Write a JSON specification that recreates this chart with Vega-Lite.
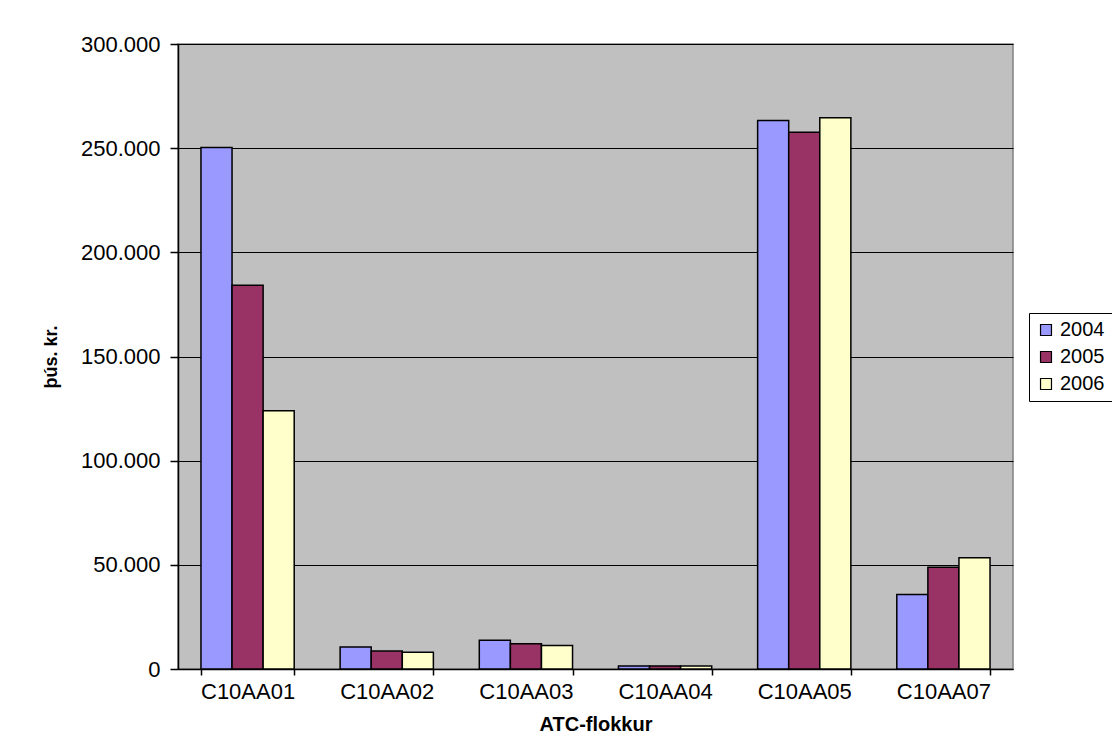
{
  "$schema": "https://vega.github.io/schema/vega-lite/v6.json",
  "width": 835,
  "height": 625,
  "autosize": {"type": "none"},
  "padding": {"left": 178, "top": 44, "right": 99, "bottom": 78},
  "background": "white",
  "config": {
    "locale": {"number": {"decimal": ",", "thousands": ".", "grouping": [3], "currency": ["", " kr."]}},
    "font": "Liberation Sans",
    "view": {"fill": "#C0C0C0", "stroke": "#808080", "strokeWidth": 1.5}
  },
  "data": {
    "values": [
      {"atc": "C10AA01", "year": "2004", "value": 250300},
      {"atc": "C10AA01", "year": "2005", "value": 184200},
      {"atc": "C10AA01", "year": "2006", "value": 124000},
      {"atc": "C10AA02", "year": "2004", "value": 10600},
      {"atc": "C10AA02", "year": "2005", "value": 8600},
      {"atc": "C10AA02", "year": "2006", "value": 8000},
      {"atc": "C10AA03", "year": "2004", "value": 13800},
      {"atc": "C10AA03", "year": "2005", "value": 12100},
      {"atc": "C10AA03", "year": "2006", "value": 11300},
      {"atc": "C10AA04", "year": "2004", "value": 1500},
      {"atc": "C10AA04", "year": "2005", "value": 1500},
      {"atc": "C10AA04", "year": "2006", "value": 1500},
      {"atc": "C10AA05", "year": "2004", "value": 263300},
      {"atc": "C10AA05", "year": "2005", "value": 257600},
      {"atc": "C10AA05", "year": "2006", "value": 264600},
      {"atc": "C10AA07", "year": "2004", "value": 35800},
      {"atc": "C10AA07", "year": "2005", "value": 48800},
      {"atc": "C10AA07", "year": "2006", "value": 53400}
    ]
  },
  "mark": {"type": "bar", "stroke": "black", "strokeWidth": 1.5},
  "encoding": {
    "x": {
      "field": "atc", "type": "nominal",
      "scale": {"paddingInner": 0.33, "paddingOuter": 0.165},
      "axis": {
        "title": "ATC-flokkur", "titleFontSize": 20, "titleFontWeight": "bold", "titleColor": "black", "titlePadding": 12,
        "labelAngle": 0, "labelFontSize": 22, "labelColor": "black", "labelFontWeight": "normal", "labelPadding": 6,
        "tickBand": "extent", "tickColor": "black", "tickSize": 6, "domainColor": "black", "domainWidth": 1.5, "tickWidth": 1.5
      }
    },
    "xOffset": {"field": "year", "type": "nominal", "scale": {"paddingInner": 0, "paddingOuter": 0}},
    "y": {
      "field": "value", "type": "quantitative",
      "scale": {"domain": [0, 300000], "nice": false},
      "axis": {
        "title": "þús. kr.", "titleFontSize": 18, "titleFontWeight": "bold", "titleColor": "black", "titlePadding": 20,
        "values": [0, 50000, 100000, 150000, 200000, 250000, 300000],
        "format": ",.0f", "labelFontSize": 22, "labelColor": "black", "labelPadding": 10,
        "grid": true, "gridColor": "black", "gridWidth": 1.2, "gridOpacity": 1,
        "tickColor": "black", "tickSize": 8, "tickWidth": 1.5, "domainColor": "black", "domainWidth": 1.5
      }
    },
    "fill": {
      "field": "year", "type": "nominal",
      "scale": {"domain": ["2004", "2005", "2006"], "range": ["#9999FF", "#993366", "#FFFFCC"]},
      "legend": {
        "title": null, "orient": "none", "legendX": 851, "legendY": 269,
        "symbolType": "square", "symbolSize": 120, "symbolStrokeColor": "black", "symbolStrokeWidth": 1.2,
        "labelFontSize": 20, "labelColor": "black", "rowPadding": 7,
        "strokeColor": "black", "fillColor": "white", "padding": 7, "symbolOffset": 0, "labelOffset": 4
      }
    }
  }
}
